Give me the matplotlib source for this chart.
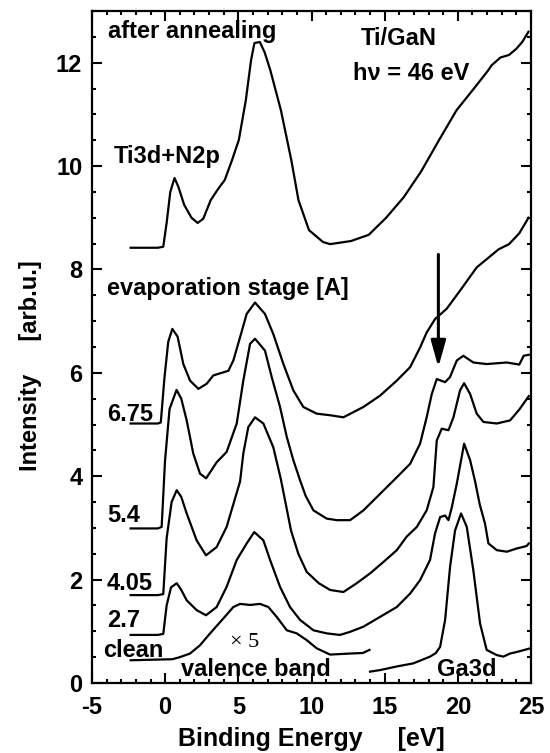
import matplotlib
matplotlib.use('Agg')
import matplotlib.pyplot as plt
from matplotlib.ticker import MultipleLocator

plt.rcParams['font.family'] = ['Liberation Sans', 'DejaVu Sans']
plt.rcParams['font.weight'] = 'bold'
plt.rcParams['axes.unicode_minus'] = False

# after annealing
anneal_x = [-2.36, -0.5, -0.13, 0.1, 0.35, 0.64, 0.9, 1.3, 1.8, 2.22, 2.6, 3.11, 3.6, 4.07, 4.55,
            5.03, 5.51, 5.87, 6.1, 6.47, 6.8, 7.19, 7.91, 8.63, 9.11, 9.83, 10.79, 11.27, 12.7,
            13.91, 15.1, 16.31, 17.5, 18.71, 19.91, 21.1, 22.07, 22.31, 22.91, 23.5, 24.0, 24.4, 24.83]
anneal_y = [8.42, 8.42, 8.44, 8.9, 9.5, 9.77, 9.6, 9.25, 9.0, 8.9, 8.98, 9.34, 9.55, 9.73, 10.1,
            10.5, 11.27, 12.05, 12.38, 12.4, 12.2, 11.85, 11.08, 10.1, 9.34, 8.76, 8.53, 8.49, 8.55,
            8.67, 9.0, 9.4, 9.9, 10.5, 11.08, 11.5, 11.85, 11.95, 12.1, 12.15, 12.27, 12.4, 12.6]

# evaporation stage 6.75
c675_x = [-2.36, -0.5, -0.3, -0.05, 0.21, 0.49, 0.85, 1.24, 1.7, 2.27, 2.84, 3.29, 4.32, 4.66,
          5.12, 5.57, 6.14, 6.82, 7.39, 8.08, 8.76, 9.44, 10.36, 11.27, 12.18, 13.55, 14.69,
          15.83, 16.74, 17.42, 17.87, 18.44, 19.24, 20.15, 21.29, 22.79, 23.5, 24.2, 24.83]
c675_y = [5.02, 5.02, 5.04, 5.9, 6.6, 6.85, 6.7, 6.17, 5.85, 5.69, 5.79, 5.95, 6.04, 6.24,
          6.69, 7.14, 7.36, 7.14, 6.75, 6.17, 5.66, 5.34, 5.21, 5.18, 5.14, 5.34, 5.56,
          5.85, 6.11, 6.49, 6.78, 7.04, 7.24, 7.59, 8.04, 8.39, 8.49, 8.7, 9.0]

# 5.4
c54_x = [-2.36, -0.5, -0.24, -0.01, 0.3, 0.78, 1.1, 1.47, 1.92, 2.38, 2.8, 3.52, 4.2, 4.89, 5.34,
         5.8, 6.14, 6.82, 7.28, 7.85, 8.31, 8.76, 9.22, 9.6, 10.13, 11.04, 11.73, 12.64, 13.55,
         14.69, 15.83, 16.74, 17.42, 17.87, 18.22, 18.56, 19.13, 19.47, 19.93, 20.38, 21.06,
         21.97, 23.35, 24.2, 24.5, 24.85]
c54_y = [2.99, 2.99, 3.02, 4.3, 5.3, 5.67, 5.5, 5.08, 4.44, 4.05, 3.96, 4.27, 4.47, 5.02, 5.85,
         6.56, 6.66, 6.43, 5.92, 5.34, 4.76, 4.31, 3.92, 3.62, 3.34, 3.18, 3.15, 3.15, 3.34,
         3.66, 3.98, 4.24, 4.63, 5.14, 5.59, 5.88, 5.82, 5.92, 6.24, 6.33, 6.2,
         6.17, 6.2, 6.16, 6.33, 6.35]

# 4.05
c405_x = [-2.36, -0.5, -0.13, 0.1, 0.44, 0.79, 1.1, 1.47, 2.15, 2.79, 3.52, 4.2, 5.12, 5.34, 5.68,
          6.14, 6.71, 7.39, 7.9, 8.6, 9.1, 9.67, 10.5, 11.27, 12.18, 13.09, 14.0, 14.91, 15.83,
          16.5, 17.2, 17.87, 18.33, 18.56, 18.9, 19.36, 19.7, 20.15, 20.43, 20.84, 21.29, 21.75,
          22.66, 23.57, 24.2, 24.85]
c405_y = [1.70, 1.70, 1.72, 2.8, 3.5, 3.73, 3.6, 3.28, 2.76, 2.47, 2.63, 3.02, 3.9, 4.44, 4.95,
          5.14, 5.02, 4.56, 3.95, 2.95, 2.5, 2.15, 1.93, 1.8, 1.76, 1.93, 2.12, 2.34, 2.57,
          2.83, 3.02, 3.34, 3.79, 4.69, 4.92, 4.89, 5.14, 5.66, 5.8, 5.59, 5.21, 5.05,
          5.02, 5.08, 5.29, 5.55]

# 2.7
c27_x = [-2.36, -0.5, -0.13, 0.1, 0.4, 0.79, 1.1, 1.47, 2.15, 2.79, 3.52, 4.2, 4.89, 5.57, 6.09,
         6.71, 7.17, 7.85, 8.53, 9.22, 10.13, 11.04, 11.95, 12.64, 13.55, 14.69, 15.83, 16.74,
         17.42, 18.1, 18.44, 18.79, 19.13, 19.36, 19.59, 19.93, 20.43, 20.84, 21.18, 21.5,
         21.86, 22.09, 22.66, 23.35, 24.0, 24.7, 24.85]
c27_y = [0.93, 0.93, 0.95, 1.5, 1.85, 1.93, 1.8, 1.6, 1.41, 1.31, 1.47, 1.86, 2.38, 2.7, 2.92,
         2.76, 2.38, 1.86, 1.47, 1.22, 1.02, 0.96, 0.93, 0.99, 1.09, 1.28, 1.47, 1.73,
         1.99, 2.38, 2.89, 3.21, 3.24, 3.15, 3.4, 3.86, 4.63, 4.31, 3.9, 3.45,
         3.08, 2.7, 2.57, 2.54, 2.6, 2.65, 2.7]

# clean: valence band (x5) and Ga3d part
clean_vb_x = [-2.36, 0.5, 1.0, 1.7, 2.38, 3.07, 3.98, 4.66, 5.12, 5.8, 6.48, 7.05, 7.62, 8.31,
              8.99, 9.67, 10.36, 11.27, 12.64, 13.5, 13.96]
clean_vb_y = [0.44, 0.46, 0.5, 0.57, 0.73, 0.96, 1.25, 1.47, 1.53, 1.51, 1.53, 1.47, 1.28, 1.02,
              0.96, 0.83, 0.67, 0.55, 0.57, 0.58, 0.64]
ga3d_x = [14.0, 14.69, 15.83, 16.96, 18.1, 18.5, 18.79, 19.13, 19.47, 19.81, 20.22, 20.61, 21.06,
          21.52, 21.97, 22.66, 23.11, 23.57, 24.03, 24.94]
ga3d_y = [0.22, 0.25, 0.32, 0.38, 0.51, 0.58, 0.7, 1.22, 2.25, 2.95, 3.28, 3.02, 2.18,
          1.15, 0.64, 0.54, 0.51, 0.57, 0.6, 0.67]

stage_labels = ['6.75', '5.4', '4.05', '2.7', 'clean']
stage_label_y = [5.2, 3.24, 1.93, 1.2, 0.62]

fig = plt.figure(figsize=(5.5, 7.53), dpi=100)
ax = fig.add_axes([92 / 550, 70 / 753, 439 / 550, 672 / 753])

curves = [(anneal_x, anneal_y), (c675_x, c675_y), (c54_x, c54_y), (c405_x, c405_y),
          (c27_x, c27_y), (clean_vb_x, clean_vb_y), (ga3d_x, ga3d_y)]
for cx, cy in curves:
    ax.plot(cx, cy, color='k', lw=1.6, solid_joinstyle='round')

ax.set_xlim(-5, 25)
ax.set_ylim(0, 13)
ax.xaxis.set_major_locator(MultipleLocator(5))
ax.xaxis.set_minor_locator(MultipleLocator(1))
ax.yaxis.set_major_locator(MultipleLocator(2))
ax.yaxis.set_minor_locator(MultipleLocator(0.5))
ax.tick_params(which='both', direction='in', top=True, right=True, width=1.5)
ax.tick_params(which='major', length=7, labelsize=17)
ax.tick_params(axis='x', which='major', pad=9)
ax.tick_params(axis='y', which='major', pad=7)
ax.tick_params(which='minor', length=3)
for s in ax.spines.values():
    s.set_linewidth(1.6)

ax.set_xlabel('Binding Energy     [eV]', fontsize=18, fontweight='bold')
ax.set_ylabel('Intensity     [arb.u.]', fontsize=17, fontweight='bold')
ax.xaxis.set_label_coords(0.5, -0.066)
ax.yaxis.set_label_coords(-0.115, 0.473)

tk = dict(fontsize=17, fontweight='bold', va='center')
ax.text(-3.89, 12.6, 'after annealing', **tk)
ax.text(15.95, 12.47, 'Ti/GaN', ha='center', **tk)
ax.text(16.8, 11.8, 'h\u03bd = 46 eV', ha='center', **tk)
ax.text(-3.49, 10.18, 'Ti3d+N2p', **tk)
ax.text(-3.97, 7.64, 'evaporation stage [A]', **tk)
for lab, ly in zip(stage_labels, stage_label_y):
    ax.text(-3.97 if lab != 'clean' else -4.23, ly, lab, **tk)
ax.text(1.07, 0.27, 'valence band', **tk)
ax.text(18.59, 0.27, 'Ga3d', **tk)
ax.text(4.43, 0.79, '\u00d7 5', fontsize=16, fontweight='normal', va='center',
        family=['Liberation Serif', 'DejaVu Serif'])

ax.annotate('', xy=(18.67, 6.11), xytext=(18.67, 8.29),
            arrowprops=dict(arrowstyle='-|>,head_length=1.0,head_width=0.28', lw=2.2,
                            color='k', mutation_scale=16, shrinkA=0, shrinkB=0))

fig.savefig('out.png', dpi=100)
